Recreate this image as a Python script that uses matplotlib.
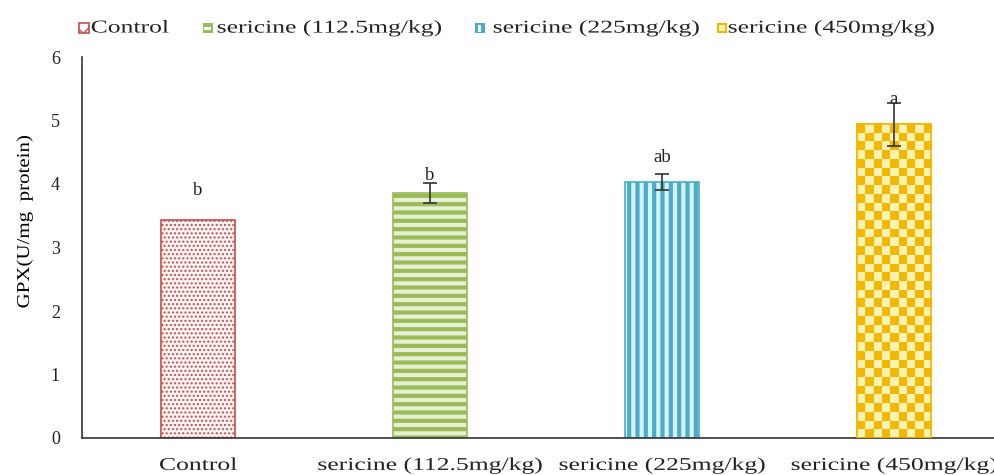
import matplotlib
matplotlib.use("Agg")
import matplotlib.pyplot as plt
import numpy as np
from matplotlib.patches import Rectangle
from matplotlib.patheffects import AbstractPathEffect
from matplotlib.transforms import Affine2D
from matplotlib.colors import ListedColormap

plt.rcParams['font.family'] = ['Liberation Serif', 'DejaVu Serif']

categories = ["Control", "sericine (112.5mg/kg)", "sericine (225mg/kg)", "sericine (450mg/kg)"]
values = [3.43, 3.86, 4.03, 4.94]
errors = [0.0, 0.16, 0.13, 0.34]
letters = ["b", "b", "ab", "a"]
letter_y = [3.9, 4.14, 4.42, 5.33]
yticks = [0, 1, 2, 3, 4, 5, 6]

main_colors = ["#C0504D", "#9BBB59", "#4BACC6", "#F2B700"]
face_colors = ["#FFF4F4", "#E6F0D2", "#D6F1F8", "#FFF2B0"]
hatches = ["....", "--", "||", None]


class HStretch(AbstractPathEffect):
    """Draw text horizontally stretched (the reference font is wide)."""
    def __init__(self, sx, anchor='center'):
        super().__init__()
        self.sx = sx
        self.anchor = anchor

    def draw_path(self, renderer, gc, tpath, affine, rgbFace=None):
        ext = tpath.get_extents()
        cx = ext.x0 if self.anchor == 'left' else (ext.x0 + ext.x1) / 2
        t = Affine2D().translate(-cx, 0).scale(self.sx, 1).translate(cx, 0) + affine
        renderer.draw_path(gc, tpath, t, rgbFace)


W, H = 995, 475
fig = plt.figure(figsize=(W / 100, H / 100), dpi=100)
ax = fig.add_axes([82 / W, 37 / H, 928 / W, 381 / H])

x = np.arange(len(categories))
bars = []
for i in range(len(categories)):
    b = ax.bar(x[i], values[i], width=0.32, facecolor=face_colors[i],
               edgecolor=main_colors[i], hatch=hatches[i], linewidth=1.2, zorder=2)[0]
    if hatches[i] in ("--", "||"):
        try:
            b.set_hatch_linewidth(3.0)
        except Exception:
            pass
    bars.append(b)

# checkerboard for last bar, clipped to the bar
b = bars[3]
bx, by = b.get_x(), b.get_y()
bw, bh = b.get_width(), b.get_height()
nx, ny = 9, 36
checker = (np.add.outer(np.arange(ny), np.arange(nx)) % 2).astype(float)
cmap = ListedColormap([face_colors[3], main_colors[3]])
im = ax.imshow(checker, cmap=cmap, extent=[bx, bx + bw, by, by + bh],
               aspect='auto', interpolation='nearest', zorder=2.5, origin='lower')
im.set_clip_path(b)
ax.bar(x[3], values[3], width=0.32, facecolor='none', edgecolor=main_colors[3],
       linewidth=1.2, zorder=3)

ax.errorbar(x[1:], values[1:], yerr=errors[1:], fmt='none', ecolor='#333333',
            elinewidth=1.2, capsize=5, capthick=1.2, zorder=4)

for i in range(len(categories)):
    ax.text(x[i], letter_y[i], letters[i], ha='center', va='center', fontsize=13.5,
            color='#222222')

ax.set_xlim(-0.5, 3.5)
ax.set_ylim(0, 6)
ax.set_yticks(yticks)
ax.set_xticks(x)
ax.set_xticklabels(categories, fontsize=13)
ax.tick_params(axis='both', length=0, labelsize=13, colors='#222222')
ax.tick_params(axis='x', pad=23)
ax.tick_params(axis='y', pad=16)
for lab in ax.get_xticklabels():
    lab.set_verticalalignment('baseline')
    lab.set_path_effects([HStretch(1.42, 'center')])
for s in ['top', 'right']:
    ax.spines[s].set_visible(False)
for s in ['left', 'bottom']:
    ax.spines[s].set_color('#333333')
    ax.spines[s].set_linewidth(1.2)
ylab = ax.set_ylabel("GPX(U/mg  protein)", fontsize=13)
ax.yaxis.set_label_coords(-0.0528, 0.567)
ylab.set_path_effects([HStretch(1.16, 'center')])

# legend (manually placed, text stretched like the reference)
handle_x = [79, 203, 475, 717]
text_x = [91, 217, 493, 728]
leg_y = 28


def fig_rect(px, py, pw, ph, **kw):
    r = Rectangle((px / W, (H - py - ph) / H), pw / W, ph / H,
                  transform=fig.transFigure, **kw)
    fig.add_artist(r)
    return r


for i in range(len(categories)):
    hx, hy = handle_x[i], leg_y - 5
    if i == 0:
        fig_rect(hx, hy, 10, 10, facecolor='white', edgecolor=main_colors[0],
                 hatch='xx', linewidth=1.2)
    elif i == 1:
        fig_rect(hx, hy, 10, 10, facecolor=main_colors[1], edgecolor='none')
        fig_rect(hx + 1.5, hy + 3.5, 7, 3, facecolor='white', edgecolor='none')
    elif i == 2:
        fig_rect(hx, hy, 10, 10, facecolor=main_colors[2], edgecolor='none')
        fig_rect(hx + 3.5, hy + 1.5, 3, 7, facecolor='white', edgecolor='none')
    else:
        fig_rect(hx, hy, 10, 10, facecolor=main_colors[3], edgecolor='none')
        fig_rect(hx + 2, hy + 2, 6, 6, facecolor=face_colors[3], edgecolor='none')
    t = fig.text(text_x[i] / W, (H - leg_y) / H, categories[i], ha='left', va='center',
                 fontsize=13, color='#222222')
    t.set_path_effects([HStretch(1.42, 'left')])

fig.savefig("out.png", dpi=100)
